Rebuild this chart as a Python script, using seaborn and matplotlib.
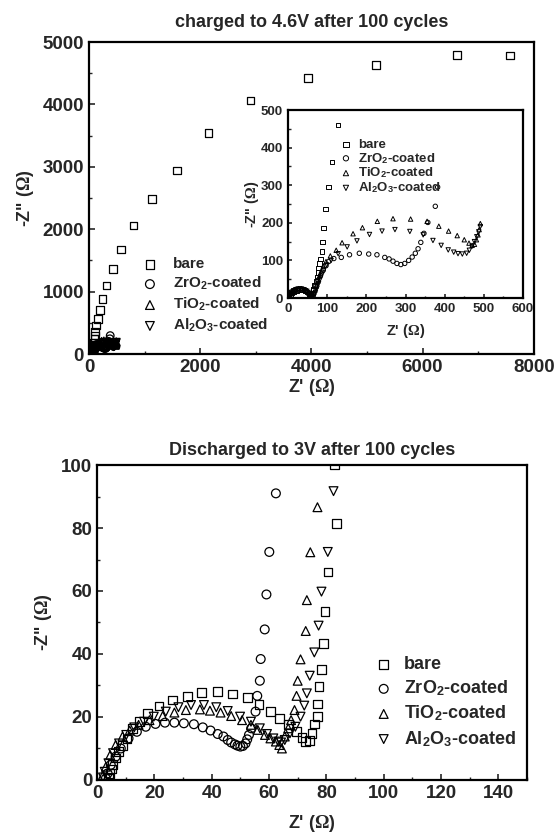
import numpy as np
import pandas as pd
import matplotlib
matplotlib.use('Agg')
import matplotlib.pyplot as plt
import seaborn as sns
from matplotlib.ticker import MultipleLocator

# charged to 4.6V (main plot + inset)
bare_c_x = [3, 6, 10, 16, 22, 29, 36, 43, 49, 53, 56, 59, 62, 65, 68, 71, 74, 76, 78, 80, 83, 86, 88, 91, 96, 103, 112, 127, 159, 197, 241, 317, 432, 578, 800, 1130, 1587, 2146, 2908, 3943, 5162, 6622, 7575]
bare_c_y = [2, 8, 13, 17, 20, 22, 22, 20, 16, 11, 5, 4, 13, 23, 33, 44, 56, 68, 80, 92, 104, 124, 149, 186, 237, 295, 362, 460, 563, 707, 884, 1099, 1367, 1672, 2058, 2481, 2942, 3537, 4062, 4421, 4636, 4796, 4786]
zr_c_x = [2, 5, 9, 14, 20, 27, 34, 41, 47, 52, 56, 60, 65, 70, 76, 83, 90, 97, 104, 117, 136, 157, 182, 206, 227, 247, 258, 268, 278, 288, 298, 308, 317, 325, 332, 339, 347, 357, 376, 382]
zr_c_y = [3, 10, 16, 20, 23, 24, 24, 22, 18, 12, 6, 10, 22, 34, 47, 60, 74, 86, 97, 105, 108, 115, 119, 117, 115, 108, 104, 98, 92, 89, 92, 100, 109, 119, 131, 148, 172, 201, 244, 295]
ti_c_x = [2, 5, 9, 14, 20, 27, 34, 41, 48, 54, 59, 64, 68, 72, 76, 80, 85, 90, 97, 108, 123, 138, 166, 190, 228, 268, 313, 355, 385, 410, 432, 450, 462, 470, 476, 481, 485, 488, 491]
ti_c_y = [3, 10, 16, 20, 23, 25, 25, 23, 19, 13, 7, 9, 20, 32, 45, 58, 72, 85, 97, 112, 127, 147, 171, 187, 204, 211, 210, 204, 191, 178, 166, 155, 146, 140, 143, 155, 168, 182, 198]
al_c_x = [2, 5, 9, 14, 20, 27, 34, 41, 48, 54, 60, 66, 70, 74, 78, 82, 87, 92, 99, 110, 128, 151, 176, 208, 240, 273, 311, 345, 370, 391, 409, 423, 434, 445, 456, 463, 470, 476, 482, 487, 491]
al_c_y = [3, 9, 15, 19, 22, 24, 24, 22, 18, 13, 7, 4, 14, 26, 38, 50, 63, 76, 88, 100, 118, 136, 152, 169, 178, 182, 177, 168, 153, 140, 128, 122, 118, 117, 119, 127, 138, 150, 163, 176, 190]

# discharged to 3V
bare_d_x = [4.0, 4.5, 5.0, 5.5, 6.5, 7.5, 9.0, 10.5, 12.3, 14.8, 17.6, 21.6, 26.2, 31.6, 36.4, 41.9, 47.3, 52.4, 56.5, 60.5, 63.7, 66.7, 69.5, 71.5, 72.7, 74.2, 75.0, 75.9, 76.9, 76.9, 77.4, 78.3, 78.9, 79.5, 80.6, 83.5, 82.9]
bare_d_y = [0.5, 2.0, 3.5, 5.0, 7.0, 9.0, 11.0, 13.0, 16.4, 18.5, 21.2, 23.5, 25.4, 26.5, 27.7, 28.0, 27.3, 26.2, 24.0, 21.7, 19.6, 17.5, 15.3, 13.5, 12.2, 12.5, 14.8, 17.8, 20.1, 24.1, 29.6, 35.1, 43.4, 53.4, 66.0, 81.5, 100.0]
zr_d_x = [3.1, 3.7, 4.8, 6.5, 8.3, 11.0, 13.9, 17.0, 20.4, 23.7, 27.0, 30.3, 33.8, 36.9, 39.6, 42.1, 44.1, 45.6, 46.8, 48.1, 49.0, 50.0, 50.9, 51.8, 52.4, 53.0, 53.8, 55.3, 55.9, 56.8, 57.1, 58.5, 59.1, 60.1, 62.4]
zr_d_y = [0.5, 2.1, 4.8, 7.4, 10.0, 13.2, 15.3, 16.9, 17.8, 18.2, 18.2, 18.0, 17.7, 16.7, 15.7, 14.6, 13.8, 12.7, 11.9, 11.3, 10.9, 10.6, 10.8, 11.6, 12.9, 14.3, 16.4, 21.7, 26.7, 31.5, 38.4, 47.8, 58.9, 72.4, 91.0]
ti_d_x = [2.1, 3.1, 4.6, 6.5, 8.9, 11.4, 14.5, 18.3, 22.9, 27.0, 31.0, 35.9, 39.4, 43.1, 46.8, 50.6, 53.7, 56.1, 58.6, 60.5, 62.4, 63.6, 64.5, 65.5, 66.7, 67.7, 68.9, 69.6, 70.0, 71.0, 72.8, 73.2, 74.4, 76.9]
ti_d_y = [1.6, 4.2, 7.9, 11.1, 13.8, 15.7, 17.5, 19.0, 20.3, 21.4, 22.2, 22.4, 22.0, 21.4, 20.3, 19.0, 17.5, 15.9, 14.3, 13.2, 12.2, 11.1, 10.0, 13.8, 16.4, 19.0, 22.2, 26.7, 31.5, 38.3, 47.3, 57.1, 72.3, 86.6]
al_d_x = [2.1, 2.7, 4.0, 5.6, 7.7, 10.2, 13.0, 16.4, 19.8, 24.0, 28.4, 32.8, 37.3, 41.6, 45.6, 49.9, 53.7, 56.8, 59.3, 61.5, 63.2, 64.2, 65.5, 67.3, 69.2, 71.0, 72.3, 73.2, 74.2, 75.8, 77.3, 78.3, 80.5, 82.5]
al_d_y = [0.8, 2.6, 5.3, 8.5, 11.6, 14.3, 16.7, 18.5, 20.1, 21.7, 23.1, 23.8, 23.8, 23.1, 21.9, 20.1, 18.5, 16.4, 14.6, 13.2, 12.2, 11.9, 12.7, 14.8, 16.9, 20.1, 23.6, 27.5, 33.1, 40.5, 49.0, 59.8, 72.4, 91.7]

labels = ['bare', r'ZrO$_\mathbf{2}$-coated', r'TiO$_\mathbf{2}$-coated', r'Al$_\mathbf{2}$O$_\mathbf{3}$-coated']
markers = ['s', 'o', '^', 'v']

sns.set_style('ticks')
plt.rcParams['font.family'] = ['Liberation Sans', 'DejaVu Sans']
plt.rcParams['font.weight'] = 'bold'
plt.rcParams['axes.labelweight'] = 'bold'
plt.rcParams['axes.titleweight'] = 'bold'
plt.rcParams['mathtext.fontset'] = 'custom'
plt.rcParams['mathtext.rm'] = 'Liberation Serif'
plt.rcParams['mathtext.it'] = 'Liberation Serif:italic'
plt.rcParams['mathtext.bf'] = 'Liberation Sans:bold'
plt.rcParams['xtick.direction'] = 'in'
plt.rcParams['ytick.direction'] = 'in'
plt.rcParams['axes.linewidth'] = 1.6
plt.rcParams['axes.edgecolor'] = 'black'

xlab = r"Z' ($\mathrm{\Omega}$)"
ylab = r'-Z" ($\mathrm{\Omega}$)'


def draw(ax, series, s, lw):
    for (x, y), lab, m in zip(series, labels, markers):
        sns.scatterplot(x=x, y=y, ax=ax, marker=m, s=s, facecolor='none',
                        edgecolor='black', linewidth=lw, label=lab, legend=False)


def style(ax, xmaj, xmin, ymaj, ymin, size):
    ax.xaxis.set_major_locator(MultipleLocator(xmaj))
    ax.xaxis.set_minor_locator(MultipleLocator(xmin))
    ax.yaxis.set_major_locator(MultipleLocator(ymaj))
    ax.yaxis.set_minor_locator(MultipleLocator(ymin))
    ax.tick_params(which='major', length=4, width=1.2, labelsize=size)
    ax.tick_params(which='minor', length=2.5, width=1.0)
    for sp in ax.spines.values():
        sp.set_visible(True)


fig = plt.figure(figsize=(5.54, 8.35), dpi=100)

charged = [(bare_c_x, bare_c_y), (zr_c_x, zr_c_y), (ti_c_x, ti_c_y), (al_c_x, al_c_y)]
discharged = [(bare_d_x, bare_d_y), (zr_d_x, zr_d_y), (ti_d_x, ti_d_y), (al_d_x, al_d_y)]

# top: charged
ax1 = fig.add_axes([0.1606, 0.576, 0.803, 0.3737])
draw(ax1, charged, 30, 0.9)
ax1.set_xlim(0, 8000)
ax1.set_ylim(0, 5000)
style(ax1, 2000, 1000, 1000, 500, 13.5)
ax1.set_xlabel(xlab, fontsize=13, labelpad=1)
ax1.set_ylabel(ylab, fontsize=13, labelpad=5)
ax1.set_title('charged to 4.6V after 100 cycles', fontsize=13, pad=11)
h, l = ax1.get_legend_handles_labels()
ax1.legend(h, l, loc='upper left', bbox_to_anchor=(0.243, 0.701), bbox_transform=fig.transFigure,
           frameon=False, fontsize=11, handlelength=1.0, handletextpad=1.0,
           labelspacing=0.25, borderpad=0, markerscale=1.15)

# inset
ax2 = fig.add_axes([0.5199, 0.6431, 0.4242, 0.2251])
draw(ax2, charged, 10, 0.7)
ax2.set_xlim(0, 600)
ax2.set_ylim(0, 500)
style(ax2, 100, 50, 100, 50, 9.5)
ax2.tick_params(which='major', length=3)
ax2.tick_params(which='minor', length=1.8)
ax2.set_xlabel(xlab, fontsize=10.5, labelpad=5)
ax2.set_ylabel(ylab, fontsize=10.5, labelpad=0)
h, l = ax2.get_legend_handles_labels()
ax2.legend(h, l, loc='upper left', bbox_to_anchor=(0.603, 0.842), bbox_transform=fig.transFigure,
           frameon=False, fontsize=9.5, handlelength=0.8, handletextpad=0.5,
           labelspacing=0.0, borderpad=0, markerscale=1.2)

# bottom: discharged
ax3 = fig.add_axes([0.1751, 0.0659, 0.7762, 0.3772])
draw(ax3, discharged, 40, 0.9)
ax3.set_xlim(0, 150)
ax3.set_ylim(0, 100)
style(ax3, 20, 10, 20, 10, 13.5)
ax3.set_xlabel(xlab, fontsize=13, labelpad=8)
ax3.set_ylabel(ylab, fontsize=13, labelpad=5)
ax3.set_title('Discharged to 3V after 100 cycles', fontsize=13, pad=7)
h, l = ax3.get_legend_handles_labels()
ax3.legend(h, l, loc='upper left', bbox_to_anchor=(0.66, 0.225), bbox_transform=fig.transFigure,
           frameon=False, fontsize=13, handlelength=1.0, handletextpad=0.6,
           labelspacing=0.3, borderpad=0)

fig.savefig('out.png', dpi=100)
